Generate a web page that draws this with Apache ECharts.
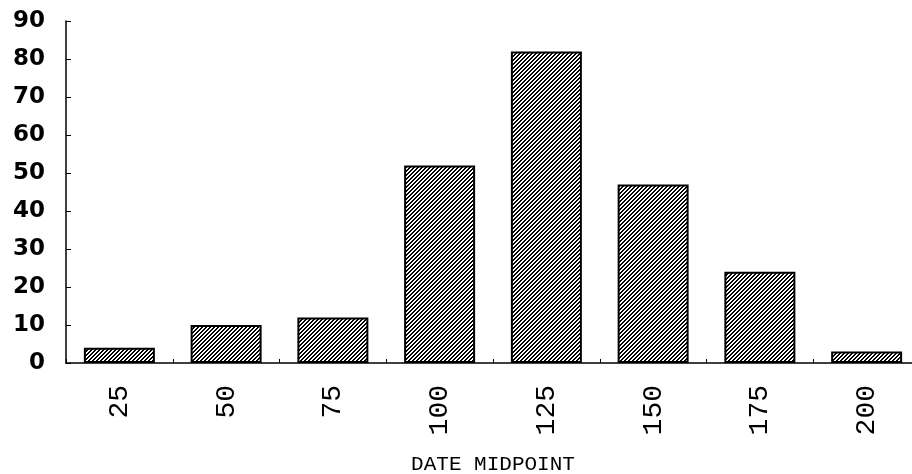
<!DOCTYPE html>
<html>
<head>
<meta charset="utf-8">
<script src="https://cdn.jsdelivr.net/npm/echarts@6/dist/echarts.min.js"></script>
<style>
  html, body { margin: 0; padding: 0; background: #fff; }
  #chart { width: 912px; height: 474px; }
</style>
</head>
<body>
<div id="chart"></div>
<script>
// date midpoints (x categories)
const midpoints = ["25", "50", "75", "100", "125", "150", "175", "200"];
// counts
const counts = [4, 10, 12, 52, 82, 47, 24, 3];
// y tick range
const yMin = 0;
const yMax = 90;
const yStep = 10;

// diagonal hatch fill "////"
function makeHatch() {
  const c = document.createElement("canvas");
  c.width = 4;
  c.height = 4;
  const ctx = c.getContext("2d");
  ctx.fillStyle = "#fff";
  ctx.fillRect(0, 0, 4, 4);
  ctx.fillStyle = "#000";
  for (let x = 0; x < 4; x++) {
    for (let y = 0; y < 4; y++) {
      if ((x + y) % 4 < 2) ctx.fillRect(x, y, 1, 1);
    }
  }
  return c;
}

const chart = echarts.init(document.getElementById("chart"), null, { renderer: "canvas" });

const option = {
  animation: false,
  backgroundColor: "#fff",
  grid: {
    left: 66,
    right: -8,
    top: 21,
    bottom: 111,
    containLabel: false,
    outerBoundsMode: "none",
  },
  xAxis: {
    type: "category",
    data: midpoints,
    name: "DATE MIDPOINT",
    nameLocation: "middle",
    nameGap: 91,
    nameTextStyle: {
      fontFamily: "Liberation Mono",
      fontSize: 21,
      color: "#000",
    },
    axisLine: { lineStyle: { color: "#000", width: 1.5 } },
    axisTick: { show: true, inside: true, length: 4, lineStyle: { color: "#000" } },
    axisLabel: {
      rotate: 90,
      margin: 22,
      fontFamily: "Liberation Mono",
      fontSize: 28,
      color: "#000",
    },
    splitLine: { show: false },
  },
  yAxis: {
    type: "value",
    min: yMin,
    max: yMax,
    interval: yStep,
    axisLine: { show: true, lineStyle: { color: "#000", width: 1.5 } },
    axisTick: { show: true, inside: true, length: 5, lineStyle: { color: "#000" } },
    axisLabel: {
      margin: 21,
      fontFamily: "DejaVu Sans",
      fontWeight: "bold",
      fontSize: 23,
      color: "#000",
    },
    splitLine: { show: false },
  },
  series: [
    {
      type: "bar",
      data: counts,
      barWidth: "66.5%",
      itemStyle: {
        color: { image: makeHatch(), repeat: "repeat" },
        borderColor: "#000",
        borderWidth: 2,
      },
    },
  ],
};

chart.setOption(option);
</script>
</body>
</html>
